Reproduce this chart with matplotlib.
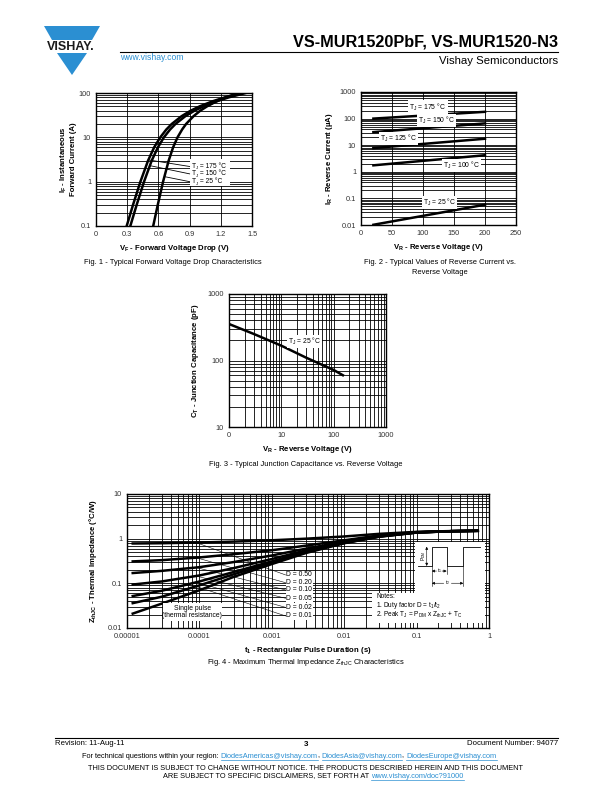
import numpy as np
import matplotlib
matplotlib.use('Agg')
import matplotlib.pyplot as plt
from matplotlib.patches import Polygon, Rectangle
from matplotlib.ticker import FixedLocator, NullFormatter, LogLocator, NullLocator

plt.rcParams['font.family'] = ['Liberation Sans', 'DejaVu Sans']
plt.rcParams['mathtext.default'] = 'regular'

# ---------------- data ----------------
# Fig 1: forward current vs forward voltage
if_current = [0.1, 0.3, 1, 3, 6, 10, 15, 20, 30, 40, 50, 65, 80, 100]
vf_175 = [0.295, 0.356, 0.427, 0.501, 0.560, 0.618, 0.676, 0.728, 0.823, 0.911, 0.997, 1.121, 1.241, 1.40]
vf_150 = [0.330, 0.391, 0.462, 0.536, 0.596, 0.653, 0.712, 0.764, 0.859, 0.948, 1.034, 1.159, 1.279, 1.44]
vf_25 = [0.550, 0.594, 0.645, 0.699, 0.742, 0.784, 0.828, 0.866, 0.938, 1.003, 1.068, 1.160, 1.251, 1.37]
fig1_xticks = [0, 0.3, 0.6, 0.9, 1.2, 1.5]
fig1_xlabels = ['0', '0.3', '0.6', '0.9', '1.2', '1.5']
fig1_yticks = [0.1, 1, 10, 100]
fig1_ylabels = ['0.1', '1', '10', '100']

# Fig 2: reverse current vs reverse voltage
vr_volt = [20, 200]
ir_175 = [100, 180]
ir_150 = [31, 66]
ir_125 = [7.8, 17.5]
ir_100 = [1.75, 4.2]
ir_25 = [0.0102, 0.058]
fig2_xticks = [0, 50, 100, 150, 200, 250]
fig2_xlabels = ['0', '50', '100', '150', '200', '250']
fig2_yticks = [0.01, 0.1, 1, 10, 100, 1000]
fig2_ylabels = ['0.01', '0.1', '1', '10', '100', '1000']

# Fig 3: junction capacitance
ct_volt = [1, 3, 10, 30, 100, 150]
ct_cap = [354, 250, 167, 110, 72, 60]
fig3_xticks = [1, 10, 100, 1000]
fig3_xlabels = ['0', '10', '100', '1000']
fig3_yticks = [10, 100, 1000]
fig3_ylabels = ['10', '100', '1000']

# Fig 4: thermal impedance
zth_time = [1.2e-5, 3e-5, 1e-4, 3e-4, 1e-3, 3e-3, 1e-2, 3e-2, 0.1, 0.3, 0.7]
zth_d50 = [0.78, 0.79, 0.82, 0.86, 0.92, 1.00, 1.12, 1.28, 1.42, 1.48, 1.50]
zth_d20 = [0.31, 0.33, 0.38, 0.45, 0.55, 0.70, 0.92, 1.18, 1.40, 1.47, 1.50]
zth_d10 = [0.17, 0.19, 0.23, 0.30, 0.42, 0.60, 0.86, 1.15, 1.39, 1.47, 1.50]
zth_d05 = [0.094, 0.11, 0.15, 0.22, 0.35, 0.55, 0.83, 1.13, 1.38, 1.47, 1.50]
zth_d02 = [0.052, 0.068, 0.11, 0.18, 0.31, 0.52, 0.81, 1.12, 1.38, 1.47, 1.50]
zth_d01 = [0.036, 0.05, 0.09, 0.16, 0.29, 0.50, 0.80, 1.11, 1.37, 1.47, 1.50]
zth_single = [0.021, 0.035, 0.07, 0.14, 0.27, 0.48, 0.79, 1.10, 1.37, 1.47, 1.50]
d_labels = ['D = 0.50', 'D = 0.20', 'D = 0.10', 'D = 0.05', 'D = 0.02', 'D = 0.01']
fig4_xticks = [1e-5, 1e-4, 1e-3, 1e-2, 1e-1, 1]
fig4_xlabels = ['0.00001', '0.0001', '0.001', '0.01', '0.1', '1']
fig4_yticks = [0.01, 0.1, 1, 10]
fig4_ylabels = ['0.01', '0.1', '1', '10']

# ---------------- figure ----------------
W, H = 612, 792
fig = plt.figure(figsize=(W / 100, H / 100), dpi=100)
bg = fig.add_axes([0, 0, 1, 1], zorder=-5)
bg.set_xlim(0, W)
bg.set_ylim(H, 0)
bg.axis('off')

BLUE = '#2B8FD2'
TICKFS = 5.3
ANNFS = 4.9
LABFS = 5.6
CAPFS = 5.4
LW_CURVE = 1.8
LW_GRID = 0.6


def px_axes(x0, y0, x1, y1):
    return fig.add_axes([x0 / W, 1 - y1 / H, (x1 - x0) / W, (y1 - y0) / H])


def style(ax, xlog, ylog, xticks, xlabels, yticks, ylabels):
    if xlog:
        ax.set_xscale('log')
    if ylog:
        ax.set_yscale('log')
    ax.xaxis.set_major_locator(FixedLocator(xticks))
    ax.set_xticklabels(xlabels)
    ax.yaxis.set_major_locator(FixedLocator(yticks))
    ax.set_yticklabels(ylabels)
    if xlog:
        ax.xaxis.set_minor_locator(LogLocator(base=10, subs=np.arange(2, 10)))
        ax.xaxis.set_minor_formatter(NullFormatter())
    else:
        ax.xaxis.set_minor_locator(NullLocator())
    if ylog:
        ax.yaxis.set_minor_locator(LogLocator(base=10, subs=np.arange(2, 10)))
        ax.yaxis.set_minor_formatter(NullFormatter())
    else:
        ax.yaxis.set_minor_locator(NullLocator())
    ax.grid(True, which='both', color='black', lw=LW_GRID)
    ax.set_axisbelow(True)
    ax.tick_params(which='both', length=0, labelsize=TICKFS, labelcolor='#333333', pad=3.5)
    for s in ax.spines.values():
        s.set_linewidth(1.0)


def tj_label(ax, x, y, rest, fs):
    """Draw 'T' + subscript 'J' + rest as separate plain texts (left aligned)."""
    ax.annotate('T', (x, y), fontsize=fs, va='center', ha='left', zorder=5)
    ax.annotate('J', (x, y), xytext=(fs * 0.6, -fs * 0.3), textcoords='offset points',
                fontsize=fs * 0.65, va='center', ha='left', zorder=5)
    ax.annotate(' = ' + rest, (x, y), xytext=(fs * 0.6 + fs * 0.4, 0), textcoords='offset points',
                fontsize=fs, va='center', ha='left', zorder=5)


# ---- Fig 1 ----
ax1 = px_axes(96, 93, 252, 226)
ax1.plot(vf_175, if_current, color='black', lw=LW_CURVE)
ax1.plot(vf_150, if_current, color='black', lw=LW_CURVE)
ax1.plot(vf_25, if_current, color='black', lw=LW_CURVE)
style(ax1, False, True, fig1_xticks, fig1_xlabels, fig1_yticks, fig1_ylabels)
ax1.set_xlim(0, 1.5)
ax1.set_ylim(0.1, 100)
ax1.add_patch(Rectangle((0.9, 0.78), 0.39, 2.4, facecolor='white', edgecolor='none', zorder=3))
for lab, yv, curve, ic in [('175 °C', 2.2, vf_175, 3.1),
                           ('150 °C', 1.5, vf_150, 2.3),
                           ('25 °C', 1.0, vf_25, 1.3)]:
    xs = np.interp(np.log10(ic), np.log10(if_current), curve)
    ax1.plot([xs, 0.9], [ic, yv], color='black', lw=0.6, zorder=4)
    tj_label(ax1, 0.92, yv, lab, 4.8)
ax1.set_xlabel('V$_F$ - Forward Voltage Drop (V)', fontsize=LABFS, fontweight='bold', labelpad=4)
ax1.set_ylabel('I$_F$ - Instantaneous\nForward Current (A)', fontsize=LABFS, fontweight='bold', labelpad=1)

# ---- Fig 2 ----
ax2 = px_axes(361, 92, 516, 225)
for ser in [ir_175, ir_150, ir_125, ir_100, ir_25]:
    ax2.plot(vr_volt, ser, color='black', lw=LW_CURVE)
style(ax2, False, True, fig2_xticks, fig2_xlabels, fig2_yticks, fig2_ylabels)
ax2.set_xlim(0, 250)
ax2.set_ylim(0.01, 1000)
box = dict(facecolor='white', edgecolor='none', pad=0.8)
ax2.text(108, 270, 'T$_J$ = 175 °C', fontsize=ANNFS, ha='center', va='center', bbox=box, zorder=5)
ax2.text(122, 87, 'T$_J$ = 150 °C', fontsize=ANNFS, ha='center', va='center', bbox=box, zorder=5)
ax2.text(60, 17.8, 'T$_J$ = 125 °C', fontsize=ANNFS, ha='center', va='center', bbox=box, zorder=5)
ax2.text(162, 1.73, 'T$_J$ = 100 °C', fontsize=ANNFS, ha='center', va='center', bbox=box, zorder=5)
ax2.text(127, 0.069, 'T$_J$ = 25 °C', fontsize=ANNFS, ha='center', va='center', bbox=box, zorder=5)
ax2.set_xlabel('V$_R$ - Reverse Voltage (V)', fontsize=LABFS, fontweight='bold', labelpad=4)
ax2.set_ylabel('I$_R$ - Reverse Current (µA)', fontsize=LABFS, fontweight='bold', labelpad=3)

# ---- Fig 3 ----
ax3 = px_axes(229, 294, 386, 427)
ax3.plot(ct_volt, ct_cap, color='black', lw=LW_CURVE)
style(ax3, True, True, fig3_xticks, fig3_xlabels, fig3_yticks, fig3_ylabels)
ax3.set_xlim(1, 1000)
ax3.set_ylim(10, 1000)
ax3.text(28, 194, 'T$_J$ = 25 °C', fontsize=ANNFS, ha='center', va='center', bbox=box, zorder=5)
ax3.set_xlabel('V$_R$ - Reverse Voltage (V)', fontsize=LABFS, fontweight='bold', labelpad=4)
ax3.set_ylabel('C$_T$ - Junction Capacitance (pF)', fontsize=LABFS, fontweight='bold', labelpad=5)

# ---- Fig 4 ----
ax4 = px_axes(127, 494, 489, 628)
zser = [zth_d50, zth_d20, zth_d10, zth_d05, zth_d02, zth_d01, zth_single]
for ser in zser:
    ax4.plot(zth_time, ser, color='black', lw=LW_CURVE)
style(ax4, True, True, fig4_xticks, fig4_xlabels, fig4_yticks, fig4_ylabels)
ax4.set_xlim(1e-5, 1)
ax4.set_ylim(0.01, 10)
lab_y = [0.396, 0.338, 0.284, 0.222, 0.154, 0.090]
for i, (lab, yy) in enumerate(zip(d_labels, lab_y)):
    ts = 9e-5
    zs = 10 ** np.interp(np.log10(ts), np.log10(zth_time), np.log10(zser[i]))
    xa, ya = ax4.transLimits.transform((np.log10(ts), np.log10(zs)))
    ax4.plot([xa, 0.438], [ya, yy], color='black', lw=0.4, transform=ax4.transAxes, zorder=3)
    ax4.text(0.44, yy, lab, fontsize=ANNFS, ha='left', va='center', transform=ax4.transAxes,
             bbox=dict(facecolor='white', edgecolor='none', pad=0.5), zorder=5)
# single pulse box
ax4.add_patch(Rectangle((0.0986, 0.052), 0.163, 0.135, transform=ax4.transAxes,
                        facecolor='white', edgecolor='none', zorder=4))
ax4.text(0.18, 0.12, 'Single pulse\n(thermal resistance)', fontsize=ANNFS, ha='center', va='center',
         transform=ax4.transAxes, zorder=5, linespacing=1.1)
# notes box
ax4.add_patch(Rectangle((0.796, 0.261), 0.193, 0.383, transform=ax4.transAxes,
                        facecolor='white', edgecolor='none', zorder=4))
ax4.add_patch(Rectangle((0.676, 0.037), 0.313, 0.226, transform=ax4.transAxes,
                        facecolor='white', edgecolor='none', zorder=4))
ax4.text(0.688, 0.232, 'Notes:', fontsize=4.7, ha='left', va='center', transform=ax4.transAxes, zorder=5)
ax4.text(0.688, 0.166, '1. Duty factor D = t$_1$/t$_2$', fontsize=4.7, ha='left', va='center',
         transform=ax4.transAxes, zorder=5)
ax4.text(0.688, 0.098, '2. Peak T$_J$ = P$_{DM}$ x Z$_{thJC}$ + T$_C$', fontsize=4.7, ha='left', va='center',
         transform=ax4.transAxes, zorder=5)
# waveform
wx = [0.805, 0.842, 0.842, 0.883, 0.883, 0.929, 0.929, 0.975]
wy = [0.463, 0.463, 0.607, 0.607, 0.463, 0.463, 0.607, 0.607]
ax4.plot(wx, wy, color='black', lw=0.6, transform=ax4.transAxes, zorder=6)
ar = dict(arrowstyle='-|>', lw=0.4, color='black', mutation_scale=4, shrinkA=0, shrinkB=0)
ax4.annotate('', xy=(0.828, 0.607), xytext=(0.828, 0.535), xycoords='axes fraction', arrowprops=ar, zorder=6)
ax4.annotate('', xy=(0.828, 0.463), xytext=(0.828, 0.535), xycoords='axes fraction', arrowprops=ar, zorder=6)
ax4.text(0.818, 0.535, 'P$_{DM}$', fontsize=3.5, rotation=90, ha='center', va='center',
         transform=ax4.transAxes, zorder=6)
ax4.plot([0.842, 0.842], [0.463, 0.31], color='black', lw=0.4, transform=ax4.transAxes, zorder=6)
ax4.plot([0.929, 0.929], [0.463, 0.31], color='black', lw=0.4, transform=ax4.transAxes, zorder=6)
ax4.plot([0.883, 0.883], [0.463, 0.40], color='black', lw=0.4, transform=ax4.transAxes, zorder=6)
ax4.annotate('', xy=(0.842, 0.425), xytext=(0.855, 0.425), xycoords='axes fraction', arrowprops=ar, zorder=6)
ax4.annotate('', xy=(0.883, 0.425), xytext=(0.870, 0.425), xycoords='axes fraction', arrowprops=ar, zorder=6)
ax4.text(0.8625, 0.43, 't$_1$', fontsize=3.5, ha='center', va='center', transform=ax4.transAxes, zorder=6)
ax4.annotate('', xy=(0.842, 0.334), xytext=(0.875, 0.334), xycoords='axes fraction', arrowprops=ar, zorder=6)
ax4.annotate('', xy=(0.929, 0.334), xytext=(0.896, 0.334), xycoords='axes fraction', arrowprops=ar, zorder=6)
ax4.text(0.8855, 0.34, 't$_2$', fontsize=3.5, ha='center', va='center', transform=ax4.transAxes, zorder=6)
ax4.set_xlabel('t$_1$ - Rectangular Pulse Duration (s)', fontsize=LABFS, fontweight='bold', labelpad=4)
ax4.set_ylabel('Z$_{thJC}$ - Thermal Impedance (°C/W)', fontsize=LABFS, fontweight='bold', labelpad=6)

# ---- captions ----
bg.text(173, 263, 'Fig. 1 - Typical Forward Voltage Drop Characteristics', fontsize=CAPFS, ha='center', va='center')
bg.text(440, 263, 'Fig. 2 - Typical Values of Reverse Current vs.', fontsize=CAPFS, ha='center', va='center')
bg.text(440, 272, 'Reverse Voltage', fontsize=CAPFS, ha='center', va='center')
bg.text(306, 464, 'Fig. 3 - Typical Junction Capacitance vs. Reverse Voltage', fontsize=CAPFS, ha='center', va='center')
bg.text(306, 663, 'Fig. 4 - Maximum Thermal Impedance Z$_{thJC}$ Characteristics', fontsize=CAPFS, ha='center', va='center')

# ---- header ----
bg.add_patch(Polygon([[44, 26], [100, 26], [92, 40], [52, 40]], closed=True, facecolor=BLUE, edgecolor='none'))
bg.add_patch(Polygon([[57, 53], [87, 53], [72, 75]], closed=True, facecolor=BLUE, edgecolor='none'))
bg.text(71, 46.5, 'VISHAY.', fontsize=9.0, fontweight='bold', ha='center', va='center', color='#1a1a1a')
bg.text(558, 42, 'VS-MUR1520PbF, VS-MUR1520-N3', fontsize=11.7, fontweight='bold', ha='right', va='center')
bg.plot([120, 558], [51.5, 51.5], color='black', lw=0.8)
bg.text(120, 58, 'www.vishay.com', fontsize=6.2, ha='left', va='center', color=BLUE)
bg.text(558, 61.5, 'Vishay Semiconductors', fontsize=8.2, ha='right', va='center')

# ---- footer ----
bg.plot([55, 558], [737.5, 737.5], color='black', lw=0.8)
bg.text(55, 743.5, 'Revision: 11-Aug-11', fontsize=5.6, ha='left', va='center')
bg.text(306, 744, '3', fontsize=5.8, ha='center', va='center', fontweight='bold')
bg.text(558, 743.5, 'Document Number: 94077', fontsize=5.6, ha='right', va='center')
t0 = bg.text(82, 756, 'For technical questions within your region: ', fontsize=5.3, ha='left', va='center')
fig.canvas.draw()
r = fig.canvas.get_renderer()
pieces = [('DiodesAmericas@vishay.com', BLUE, True), (', ', 'black', False),
          ('DiodesAsia@vishay.com', BLUE, True), (', ', 'black', False),
          ('DiodesEurope@vishay.com', BLUE, True)]
x_cur = bg.transData.inverted().transform(t0.get_window_extent(r))[1][0]
for txt, col, ul in pieces:
    tt = bg.text(x_cur, 756, txt, fontsize=5.3, ha='left', va='center', color=col)
    ext = bg.transData.inverted().transform(tt.get_window_extent(r))
    if ul:
        bg.plot([ext[0][0], ext[1][0]], [759.5, 759.5], color=BLUE, lw=0.5)
    x_cur = ext[1][0]
bg.text(306, 768, 'THIS DOCUMENT IS SUBJECT TO CHANGE WITHOUT NOTICE. THE PRODUCTS DESCRIBED HEREIN AND THIS DOCUMENT',
        fontsize=5.3, ha='center', va='center')
t1 = bg.text(163, 776, 'ARE SUBJECT TO SPECIFIC DISCLAIMERS, SET FORTH AT ', fontsize=5.3, ha='left', va='center')
x_cur = bg.transData.inverted().transform(t1.get_window_extent(r))[1][0]
tt = bg.text(x_cur, 776, 'www.vishay.com/doc?91000', fontsize=5.3, ha='left', va='center', color=BLUE)
ext = bg.transData.inverted().transform(tt.get_window_extent(r))
bg.plot([ext[0][0], ext[1][0]], [779.5, 779.5], color=BLUE, lw=0.5)

fig.savefig('out.png', dpi=100, facecolor='white')
